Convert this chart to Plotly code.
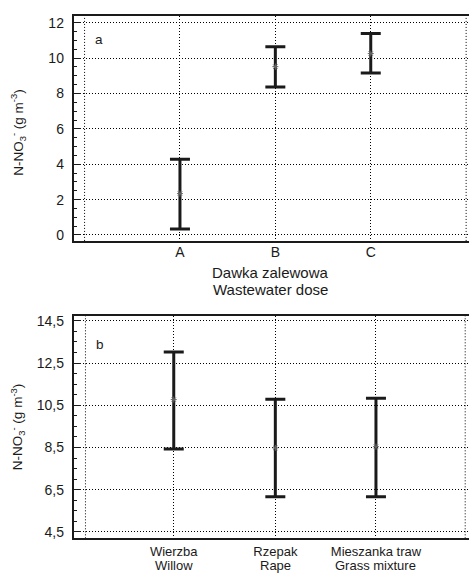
import plotly.graph_objects as go

W, H = 469, 576

# Panel a: nitrate by wastewater dose
dose = ["A", "B", "C"]
dose_x = [1, 2, 3]
dose_mean = [2.34, 9.52, 10.26]
dose_low = [0.34, 8.37, 9.16]
dose_high = [4.28, 10.64, 11.39]
ya_ticks = [0, 2, 4, 6, 8, 10, 12]

# Panel b: nitrate by plant cover
crop_pl = ["Wierzba", "Rzepak", "Mieszanka traw"]
crop_en = ["Willow", "Rape", "Grass mixture"]
crop_x = [0.93, 2.0, 3.06]
crop_mean = [10.77, 8.48, 8.54]
crop_low = [8.43, 6.17, 6.17]
crop_high = [13.03, 10.79, 10.83]
yb_ticks = [4.5, 6.5, 8.5, 10.5, 12.5, 14.5]
yb_labels = ["4,5", "6,5", "8,5", "10,5", "12,5", "14,5"]

# outer dotted grid columns framing the categories
edge_x = [0, 4]

FONT = "Liberation Sans, Arial, sans-serif"
INK = "#1a1a1a"
DOTS = "1px,2px"


def px_x(p):
    return p / W


def px_y(p):
    return 1 - p / H


def ci_trace(x, mean, low, high, xa, ya):
    return go.Scatter(
        x=x, y=mean, mode="markers", xaxis=xa, yaxis=ya, showlegend=False,
        marker=dict(symbol="asterisk-open", size=5, color="#666",
                    line=dict(width=1, color="#666")),
        error_y=dict(type="data", symmetric=False,
                     array=[h - m for h, m in zip(high, mean)],
                     arrayminus=[m - l for m, l in zip(mean, low)],
                     thickness=3, width=10, color=INK),
    )


fig = go.Figure()
fig.add_trace(ci_trace(dose_x, dose_mean, dose_low, dose_high, "x", "y"))
fig.add_trace(ci_trace(crop_x, crop_mean, crop_low, crop_high, "x2", "y2"))

grid = dict(showgrid=True, gridcolor="#000", gridwidth=1, griddash=DOTS,
            zeroline=False, showline=True, linecolor=INK, linewidth=1.5)

x_dom = [px_x(73.5), 1]
fig.update_layout(
    width=W, height=H, margin=dict(l=0, r=0, t=0, b=0),
    paper_bgcolor="white", plot_bgcolor="white",
    font=dict(family=FONT, size=13, color=INK),
    xaxis=dict(**grid, domain=x_dom, anchor="y", range=[-0.116, 4.03],
               tickmode="array", tickvals=dose_x, ticktext=dose, ticks="",
               mirror=True, ticklabelstandoff=-2, tickfont=dict(size=14)),
    yaxis=dict(**grid, domain=[px_y(240), px_y(13)], anchor="x",
               range=[-0.336, 12.39], tickmode="array", tickvals=ya_ticks,
               ticks="inside", ticklen=8, tickwidth=1, tickcolor=INK,
               mirror=False, ticklabelstandoff=5, tickfont=dict(size=14),
               minor=dict(tickmode="linear", tick0=0, dtick=0.5,
                          ticks="inside", ticklen=4, tickwidth=1,
                          tickcolor=INK, showgrid=False)),
    xaxis2=dict(**grid, domain=x_dom, anchor="y2", range=[-0.126, 4.04],
                tickmode="array", tickvals=crop_x, ticktext=crop_pl,
                ticks="", mirror=True, ticklabelstandoff=0,
                tickfont=dict(size=13)),
    yaxis2=dict(**grid, domain=[px_y(540), px_y(315.3)], anchor="x2",
                range=[4.2, 14.75], tickmode="array", tickvals=yb_ticks,
                ticktext=yb_labels, ticks="inside", ticklen=8, tickwidth=1,
                tickcolor=INK, mirror=False, ticklabelstandoff=5,
                tickfont=dict(size=14),
                minor=dict(tickmode="linear", tick0=4.5, dtick=0.5,
                           ticks="inside", ticklen=4, tickwidth=1,
                           tickcolor=INK, showgrid=False)),
)

for xa, ya in (("x", "y domain"), ("x2", "y2 domain")):
    for ex in edge_x:
        fig.add_shape(type="line", xref=xa, yref=ya, x0=ex, x1=ex, y0=0, y1=1,
                      line=dict(color="#000", width=1, dash=DOTS), layer="below")

# English names under the Polish tick labels
for x, e in zip(crop_x, crop_en):
    fig.add_annotation(xref="x2", yref="paper", x=x, y=px_y(567.5), text=e,
                       showarrow=False, xanchor="center", yanchor="middle",
                       font=dict(size=13))

ytitle = "N-NO<sub>3</sub><sup>-</sup> (g m<sup>-3</sup>)"
notes = [
    dict(text="a", x=px_x(99), y=px_y(37), font=dict(size=13.5)),
    dict(text="b", x=px_x(100), y=px_y(344), font=dict(size=13.5)),
    dict(text=ytitle, x=px_x(18), y=px_y(131), textangle=-90, font=dict(size=13.5)),
    dict(text=ytitle, x=px_x(18), y=px_y(428), textangle=-90, font=dict(size=13.5)),
    dict(text="Dawka zalewowa", x=px_x(270), y=px_y(272), font=dict(size=15)),
    dict(text="Wastewater dose", x=px_x(270), y=px_y(289), font=dict(size=15)),
]
for n in notes:
    fig.add_annotation(xref="paper", yref="paper", showarrow=False,
                       xanchor="center", yanchor="middle", **n)

fig.write_html("out.html")
